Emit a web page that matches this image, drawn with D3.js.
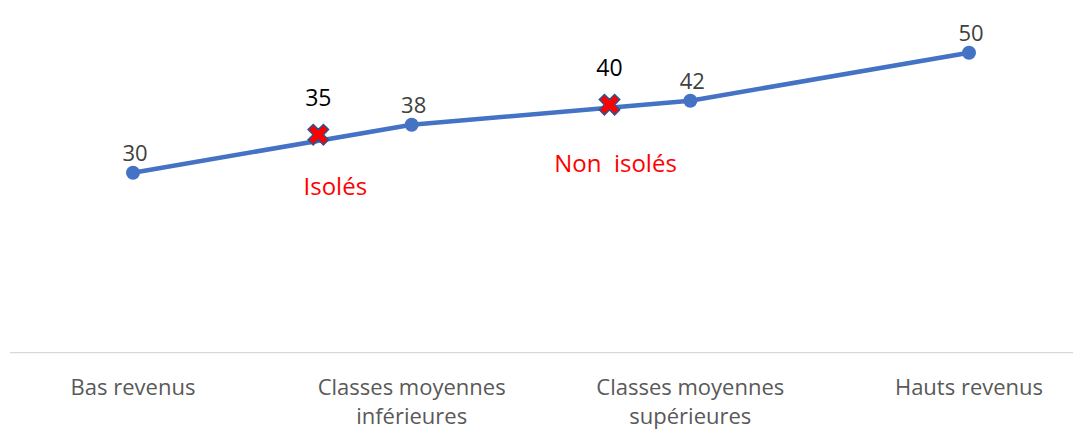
<!DOCTYPE html>
<html>
<head>
<meta charset="utf-8">
<script src="https://cdn.jsdelivr.net/npm/d3@7"></script>
<style>
  html, body { margin: 0; padding: 0; background: #fff; }
  svg { display: block; font-family: "Open Sans", "Noto Sans", sans-serif; }
</style>
</head>
<body>
<svg id="chart" width="1073" height="431"></svg>
<script>
// Income categories (two-line labels) and the plotted values
const categories = ["Bas revenus", "Classes moyennes inférieures", "Classes moyennes supérieures", "Hauts revenus"];
const categoryLines = [["Bas revenus"], ["Classes moyennes", "inférieures"], ["Classes moyennes", "supérieures"], ["Hauts revenus"]];
const values = [30, 38, 42, 50];

// Threshold markers placed along the line (position as fractional category index)
const markerValues = [35, 40];
const markerPositions = [0.665, 1.71];
const markerNames = ["Isolés", "Non  isolés"];

const width = 1073, height = 431;
const svg = d3.select("#chart");

const x = d3.scalePoint().domain(d3.range(categories.length)).range([133, 969]);
const step = x(1) - x(0);
const xAt = t => x(0) + t * step;
const y = d3.scaleLinear().domain([0, 50]).range([352.7, 52.7]);

// Horizontal category axis
svg.append("line")
  .attr("x1", 10).attr("x2", width)
  .attr("y1", y(0)).attr("y2", y(0))
  .attr("stroke", "#d9d9d9").attr("stroke-width", 1.3);

const labels = svg.append("g").selectAll("text")
  .data(categoryLines)
  .join("text")
  .attr("x", (d, i) => x(i))
  .attr("y", 395)
  .attr("text-anchor", "middle")
  .attr("fill", "#595959")
  .style("font-size", "22px");
labels.selectAll("tspan")
  .data(d => d)
  .join("tspan")
  .attr("x", function () { return d3.select(this.parentNode).attr("x"); })
  .attr("dy", (d, i) => i === 0 ? 0 : 29)
  .text(d => d);

// Line series
const line = d3.line().x((d, i) => x(i)).y(d => y(d));
svg.append("path")
  .datum(values)
  .attr("d", line)
  .attr("fill", "none")
  .attr("stroke", "#4472c4")
  .attr("stroke-width", 4.5)
  .attr("stroke-linejoin", "round");

svg.append("g").selectAll("circle")
  .data(values)
  .join("circle")
  .attr("cx", (d, i) => x(i))
  .attr("cy", d => y(d))
  .attr("r", 7)
  .attr("fill", "#4472c4");

svg.append("g").selectAll("text")
  .data(values)
  .join("text")
  .attr("x", (d, i) => x(i) + 2)
  .attr("y", d => y(d) - 12)
  .attr("text-anchor", "middle")
  .attr("fill", "#404040")
  .style("font-size", "22px")
  .text(d => d);

// Cross markers with their values and names
const cross = d3.symbol().type(d3.symbolCross).size(260);
const mk = svg.append("g").selectAll("g")
  .data(markerValues.map((v, i) => ({ v, t: markerPositions[i], name: markerNames[i] })))
  .join("g")
  .attr("transform", d => `translate(${xAt(d.t)},${y(d.v) - 8})`);

mk.append("path")
  .attr("d", cross)
  .attr("transform", "rotate(45)")
  .attr("fill", "#ff0000")
  .attr("stroke", "#2f528f")
  .attr("stroke-width", 1.5);

mk.append("text")
  .attr("y", -29)
  .attr("text-anchor", "middle")
  .attr("fill", "#000")
  .style("font-size", "23px")
  .style("font-weight", "500")
  .text(d => d.v);

mk.append("text")
  .attr("x", (d, i) => i === 0 ? 17 : 6)
  .attr("y", (d, i) => i === 0 ? 60 : 67)
  .attr("text-anchor", "middle")
  .attr("fill", "#ff0000")
  .style("font-size", "24px")
  .style("white-space", "pre")
  .text(d => d.name);
</script>
</body>
</html>
